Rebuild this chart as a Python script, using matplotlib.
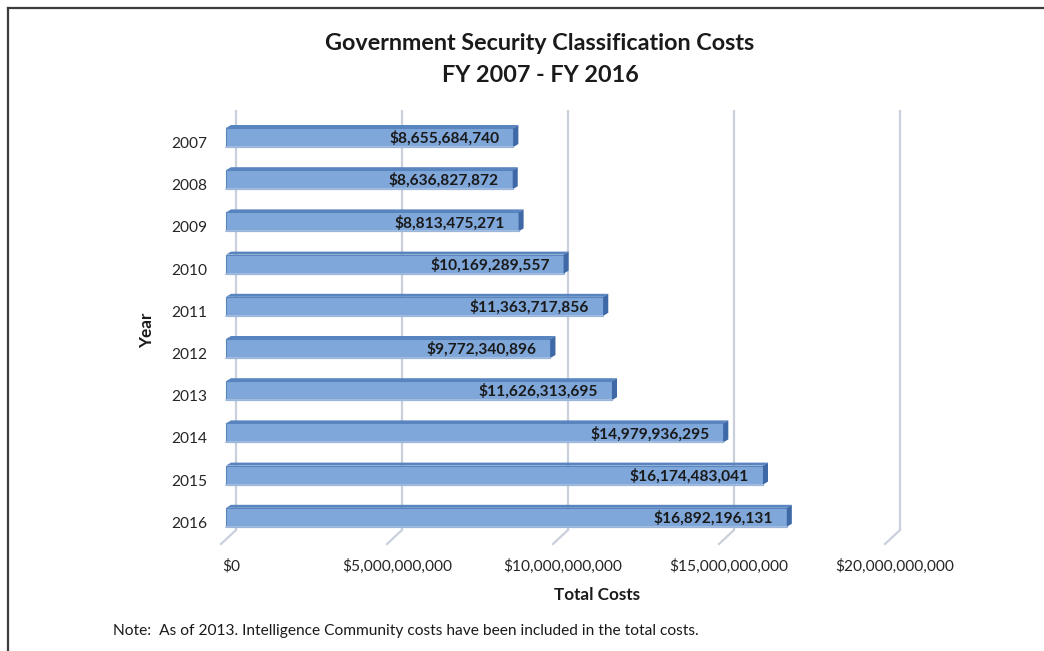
import numpy as np
import matplotlib
matplotlib.use('Agg')
import matplotlib.pyplot as plt
import matplotlib.transforms as mtransforms
from matplotlib.lines import Line2D

# Classification costs by fiscal year (dollars)
years = ['2007', '2008', '2009', '2010', '2011', '2012', '2013', '2014', '2015', '2016']
costs = [8655684740, 8636827872, 8813475271, 10169289557, 11363717856,
         9772340896, 11626313695, 14979936295, 16174483041, 16892196131]
tick_values = [0, 5e9, 10e9, 15e9, 20e9]
tick_labels = ['$0', '$5,000,000,000', '$10,000,000,000', '$15,000,000,000', '$20,000,000,000']

plt.rcParams['font.family'] = ['Lato', 'DejaVu Sans']

W, H = 1044, 651
fig = plt.figure(figsize=(W / 100, H / 100), dpi=100)

# axes box in pixels, data in billions / bar index
px_left, px_right, px_top, px_bot = 213, 920, 100, 555
x0_px, px_per_b = 226, 33.2
y0_px, px_per_row = 137.5, 42.2
ax = fig.add_axes([px_left / W, 1 - px_bot / H, (px_right - px_left) / W, (px_bot - px_top) / H])
ax.set_xlim((px_left - x0_px) / px_per_b, (px_right - x0_px) / px_per_b)
ax.set_ylim((px_bot - y0_px) / px_per_row, (px_top - y0_px) / px_per_row)
for s in ax.spines.values():
    s.set_visible(False)

def ypx(p):
    return (p - y0_px) / px_per_row

# back wall gridlines with floor return
grid_c = '#c9d0dc'
back = 10 / px_per_b
for t in tick_values:
    xb = t / 1e9 + back
    ax.plot([xb, xb], [ypx(110), ypx(530)], color=grid_c, lw=1.6, zorder=1, solid_capstyle='butt')
    ax.plot([xb, xb - 15 / px_per_b], [ypx(530), ypx(544)], color=grid_c, lw=1.6, zorder=1)

# 3-D style bars: front face, top face, side face
h = 19 / px_per_row
dx = 5 / px_per_b
dy = 3 / px_per_row
ypos = np.arange(len(years))
vals = np.array(costs) / 1e9
ax.barh(ypos, vals, height=h, color='#7fa7da', edgecolor='#5a84bd', lw=0.8, zorder=3)
for y, v in zip(ypos, vals):
    top = y - h / 2
    bot = y + h / 2
    ax.fill([0, v, v + dx, dx], [top, top, top - dy, top - dy], color='#5884c0', zorder=3, lw=0)
    ax.fill([v, v + dx, v + dx, v], [top, top - dy, bot - dy, bot], color='#3e68a6', zorder=3, lw=0)
    ax.plot([0, v], [bot, bot], color='#a9c1e0', lw=1.2, zorder=4)
    ax.text(v - 0.42, y + 0.02, '${:,}'.format(int(round(v * 1e9))), ha='right', va='center',
            fontsize=11.2, fontweight='bold', color='#1a1a1a', zorder=5)

ax.set_yticks(ypos)
ax.set_yticklabels(years, fontsize=11.2, color='#262626')
ax.set_xticks([t / 1e9 + 0.15 for t in tick_values])
ax.set_xticklabels(tick_labels, fontsize=11.2, color='#262626')
ax.tick_params(length=0)
ax.tick_params(axis='y', pad=4)
ax.tick_params(axis='x', pad=3)

# year labels sit a little below the bar fronts
shift = mtransforms.ScaledTranslation(0, -5 / 100, fig.dpi_scale_trans)
for lab in ax.get_yticklabels():
    lab.set_transform(lab.get_transform() + shift)

fig.text(540 / W, 1 - 43 / H, 'Government Security Classification Costs', ha='center', va='center',
         fontsize=16.8, fontweight='bold', color='#1a1a1a')
fig.text(540 / W, 1 - 76 / H, 'FY 2007 - FY 2016', ha='center', va='center',
         fontsize=16.8, fontweight='bold', color='#1a1a1a')
fig.text(597 / W, 1 - 595 / H, 'Total Costs', ha='center', va='center',
         fontsize=12.3, fontweight='bold', color='#1a1a1a')
fig.text(147 / W, 1 - 330 / H, 'Year', ha='center', va='center', rotation=90,
         fontsize=12.3, fontweight='bold', color='#1a1a1a')
fig.text(113 / W, 1 - 631 / H,
         'Note:  As of 2013. Intelligence Community costs have been included in the total costs.',
         ha='left', va='center', fontsize=11.2, color='#1a1a1a')

# frame on top and left edges
fig.add_artist(Line2D([8 / W, 1], [1 - 8 / H, 1 - 8 / H], color='#3c3c3c', lw=1.6))
fig.add_artist(Line2D([8 / W, 8 / W], [1 - 8 / H, 0], color='#3c3c3c', lw=1.6))

fig.savefig('out.png', dpi=100)
